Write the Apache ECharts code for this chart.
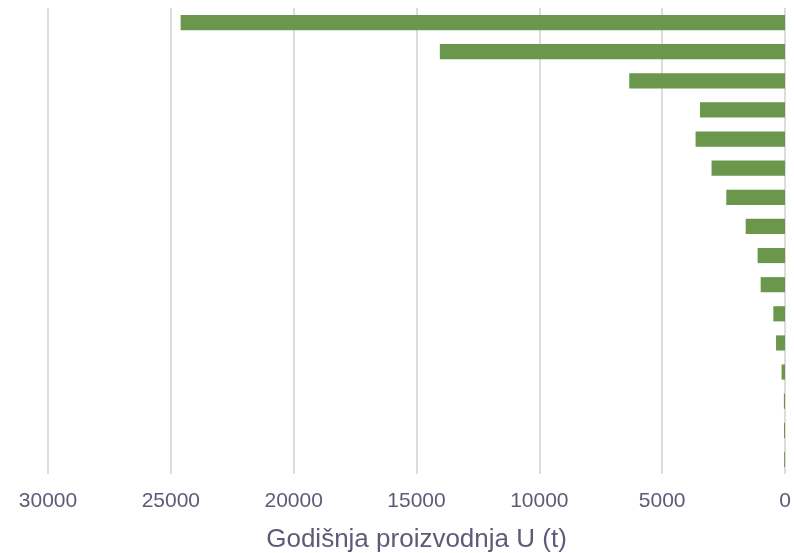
<!DOCTYPE html>
<html>
<head>
<meta charset="utf-8">
<script src="https://cdn.jsdelivr.net/npm/echarts@6/dist/echarts.min.js"></script>
<style>
  html, body { margin: 0; padding: 0; background: #fff; }
  #chart { width: 794px; height: 553px; }
</style>
</head>
<body>
<div id="chart"></div>
<script>
// Annual uranium production per producer, largest first
const categories = ['P1','P2','P3','P4','P5','P6','P7','P8','P9','P10','P11','P12','P13','P14','P15','P16'];
const production = [24600, 14050, 6340, 3460, 3640, 2990, 2390, 1600, 1115, 990, 475, 365, 140, 45, 40, 35];
const xTicks = { min: 0, max: 30000, interval: 5000 };
const axisTitle = 'Godišnja proizvodnja U (t)';

const chart = echarts.init(document.getElementById('chart'));
chart.setOption({
  animation: false,
  grid: { left: 48, right: 9, top: 8, bottom: 79, containLabel: false, outerBoundsMode: 'none' },
  xAxis: {
    type: 'value',
    inverse: true,
    min: xTicks.min,
    max: xTicks.max,
    interval: xTicks.interval,
    name: axisTitle,
    nameLocation: 'middle',
    nameGap: 53,
    nameTextStyle: { fontFamily: 'Liberation Sans', fontSize: 26, color: '#5c5c78' },
    axisLine: { show: false },
    axisTick: { show: false },
    axisLabel: {
      fontFamily: 'Liberation Sans', fontSize: 21, color: '#5c5c78', margin: 17,
      formatter: v => String(v)
    },
    splitLine: { show: true, lineStyle: { color: '#dcdcdc', width: 2 } }
  },
  yAxis: {
    type: 'category',
    inverse: true,
    data: categories,
    axisLine: { show: false },
    axisTick: { show: false },
    axisLabel: { show: false },
    splitLine: { show: false }
  },
  series: [{
    type: 'bar',
    data: production,
    barWidth: '52%',
    itemStyle: { color: '#6a974c' }
  }]
});
</script>
</body>
</html>
